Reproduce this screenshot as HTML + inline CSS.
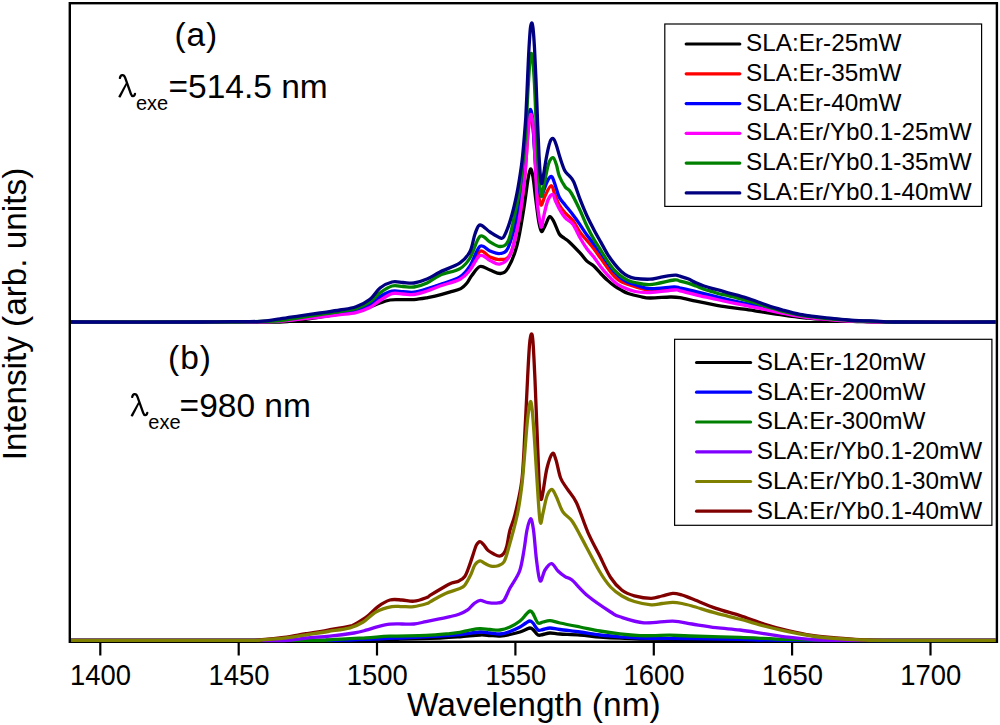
<!DOCTYPE html>
<html><head><meta charset="utf-8"><style>
html,body{margin:0;padding:0;background:#fff;}
svg{display:block;}
text{font-family:"Liberation Sans",sans-serif;fill:#000;}
.tk{font-size:29.5px;}
.lg{font-size:24.3px;}
.ttl{font-size:33.5px;}
.lab{font-size:33.5px;}
.sub{font-size:20px;}
.lam{font-family:"Liberation Serif",serif;font-size:33px;}
</style></head><body>
<svg width="1000" height="725" viewBox="0 0 1000 725">
<rect x="0" y="0" width="1000" height="725" fill="#fff"/>
<defs><clipPath id="pc"><rect x="71.1" y="4" width="924.6" height="640"/></clipPath></defs>
<line x1="69.8" y1="322" x2="996.9" y2="322" stroke="#000" stroke-width="2.2"/>
<rect x="69.8" y="3.2" width="927.1" height="638.6" fill="none" stroke="#000" stroke-width="2.4"/>
<g clip-path="url(#pc)">
<path d="M70.5,322.0 C98.8,322.0 205.1,322.0 240.0,322.0 C274.9,322.0 270.0,322.3 280.0,322.0 C290.0,321.7 293.3,320.8 300.0,320.0 C306.7,319.2 313.3,318.0 320.0,317.0 C326.7,316.0 333.3,315.2 340.0,314.0 C346.7,312.8 355.0,311.2 360.0,310.0 C365.0,308.8 366.7,308.2 370.0,307.0 C373.3,305.8 376.7,304.2 380.0,303.0 C383.3,301.8 386.7,300.6 390.0,300.0 C393.3,299.4 396.0,299.7 400.0,299.6 C404.0,299.5 409.5,299.9 414.0,299.6 C418.5,299.3 423.5,298.4 427.0,297.8 C430.5,297.2 431.2,297.1 435.0,296.2 C438.8,295.3 445.3,293.5 449.6,292.2 C453.9,290.9 457.9,290.1 460.8,288.6 C463.7,287.1 465.1,285.2 467.0,283.0 C468.9,280.8 469.8,277.9 472.0,275.2 C474.2,272.4 477.0,267.4 480.0,266.5 C483.0,265.6 486.6,268.8 490.0,270.0 C493.4,271.2 497.4,273.8 500.4,273.5 C503.4,273.2 505.2,272.7 508.0,268.0 C510.8,263.3 514.4,255.1 517.0,245.4 C519.6,235.7 521.8,221.0 523.6,210.0 C525.4,199.0 526.9,186.1 528.0,179.3 C529.1,172.5 529.7,169.4 530.5,169.0 C531.3,168.6 532.1,172.0 533.0,177.0 C533.9,182.0 534.7,191.3 535.7,199.0 C536.7,206.7 538.0,217.6 539.0,223.0 C540.0,228.4 540.5,231.0 541.5,231.5 C542.5,232.0 543.6,228.5 545.0,226.0 C546.4,223.5 548.2,217.3 549.7,216.6 C551.2,215.9 552.4,219.1 554.0,222.0 C555.6,224.9 557.6,231.3 559.3,234.0 C561.0,236.7 562.4,236.7 564.0,238.0 C565.6,239.3 566.3,239.2 569.0,241.7 C571.7,244.2 577.0,249.7 580.0,252.9 C583.0,256.1 584.6,258.9 586.9,261.1 C589.2,263.3 591.5,263.9 593.8,266.0 C596.1,268.1 598.4,271.1 600.7,273.5 C603.0,275.9 605.3,278.3 607.6,280.4 C609.9,282.5 612.1,284.3 614.4,285.9 C616.7,287.5 619.0,288.8 621.3,290.1 C623.6,291.4 625.1,292.4 628.2,293.5 C631.3,294.6 636.4,295.8 640.0,296.5 C643.6,297.2 645.0,297.9 650.0,298.0 C655.0,298.1 665.0,297.1 670.0,297.0 C675.0,296.9 675.7,296.9 680.0,297.6 C684.3,298.3 690.7,300.1 696.0,301.2 C701.3,302.3 706.7,303.4 712.0,304.4 C717.3,305.4 722.7,306.4 728.0,307.2 C733.3,308.0 738.7,308.5 744.0,309.2 C749.3,309.9 754.7,310.8 760.0,311.6 C765.3,312.4 770.7,313.4 776.0,314.2 C781.3,315.0 786.7,315.6 792.0,316.3 C797.3,317.0 802.7,317.6 808.0,318.2 C813.3,318.8 818.7,319.2 824.0,319.6 C829.3,320.0 834.0,320.3 840.0,320.6 C846.0,320.9 853.3,321.3 860.0,321.5 C866.7,321.7 857.3,321.9 880.0,322.0 C902.7,322.1 976.7,322.0 996.0,322.0" fill="none" stroke="#000000" stroke-width="3.3" stroke-linejoin="round" stroke-linecap="butt"/>
<path d="M70.5,322.0 C92.1,322.0 170.1,322.0 200.0,322.0 C229.9,322.0 236.7,322.2 250.0,322.0 C263.3,321.8 271.7,321.5 280.0,321.0 C288.3,320.5 293.3,319.6 300.0,318.8 C306.7,318.0 313.3,317.1 320.0,316.3 C326.7,315.5 334.0,314.6 340.0,313.8 C346.0,313.0 351.0,312.9 356.0,311.6 C361.0,310.3 366.0,308.2 370.0,306.0 C374.0,303.8 376.3,300.8 380.0,298.5 C383.7,296.2 388.2,293.0 392.0,292.0 C395.8,291.0 399.3,292.3 403.0,292.5 C406.7,292.7 410.0,293.5 414.0,293.0 C418.0,292.5 422.7,290.8 427.0,289.5 C431.3,288.2 434.5,286.8 440.0,285.0 C445.5,283.2 455.0,281.3 460.0,278.5 C465.0,275.7 466.7,272.6 470.0,268.0 C473.3,263.4 476.7,253.0 480.0,251.2 C483.3,249.4 486.7,255.6 490.0,257.0 C493.3,258.4 496.6,260.0 500.0,259.5 C503.4,259.0 507.2,260.8 510.4,254.0 C513.6,247.2 516.8,231.8 519.2,219.0 C521.6,206.2 523.2,191.3 524.7,177.0 C526.2,162.7 527.0,143.2 528.0,133.0 C529.0,122.8 529.6,116.0 530.5,116.0 C531.4,116.0 532.4,121.5 533.5,133.0 C534.6,144.5 535.9,173.8 536.9,185.0 C537.9,196.2 538.7,196.7 539.5,200.0 C540.3,203.3 540.6,205.7 541.5,205.0 C542.4,204.3 543.4,199.2 545.0,196.0 C546.6,192.8 549.5,185.9 551.2,185.7 C552.9,185.5 553.6,191.8 555.0,195.0 C556.4,198.2 557.6,202.0 559.3,205.0 C561.0,208.0 562.8,210.2 565.1,212.8 C567.4,215.4 570.4,217.3 572.9,220.5 C575.4,223.7 577.7,228.9 580.0,232.2 C582.3,235.5 584.6,237.8 586.9,240.5 C589.2,243.2 591.5,245.7 593.8,248.7 C596.1,251.7 598.4,255.2 600.7,258.4 C603.0,261.6 605.3,265.0 607.6,268.0 C609.9,271.0 612.1,274.0 614.4,276.3 C616.7,278.6 617.8,280.1 621.3,281.8 C624.8,283.5 630.3,285.2 635.1,286.6 C639.9,288.0 643.5,289.7 650.0,290.1 C656.5,290.5 669.0,289.1 674.0,289.0 C679.0,288.9 676.3,289.1 680.0,289.8 C683.7,290.6 690.7,292.3 696.0,293.5 C701.3,294.7 706.7,295.9 712.0,297.2 C717.3,298.4 722.7,299.8 728.0,301.0 C733.3,302.2 738.7,303.3 744.0,304.4 C749.3,305.5 754.7,306.5 760.0,307.6 C765.3,308.8 770.7,310.2 776.0,311.3 C781.3,312.4 786.7,313.5 792.0,314.4 C797.3,315.3 802.7,316.2 808.0,316.9 C813.3,317.6 818.7,318.2 824.0,318.8 C829.3,319.4 834.0,319.8 840.0,320.2 C846.0,320.6 853.3,320.9 860.0,321.2 C866.7,321.5 873.3,321.7 880.0,321.8 C886.7,321.9 880.7,322.0 900.0,322.0 C919.3,322.0 980.0,322.0 996.0,322.0" fill="none" stroke="#ff0000" stroke-width="3.3" stroke-linejoin="round" stroke-linecap="butt"/>
<path d="M70.5,322.0 C92.1,322.0 170.1,322.0 200.0,322.0 C229.9,322.0 236.7,322.2 250.0,322.0 C263.3,321.8 271.7,321.4 280.0,320.8 C288.3,320.2 293.3,319.2 300.0,318.3 C306.7,317.4 313.3,316.5 320.0,315.6 C326.7,314.7 334.0,313.9 340.0,313.0 C346.0,312.1 351.0,311.9 356.0,310.5 C361.0,309.1 366.0,306.8 370.0,304.5 C374.0,302.2 376.3,298.7 380.0,296.5 C383.7,294.3 388.2,292.0 392.0,291.2 C395.8,290.4 399.3,291.5 403.0,291.7 C406.7,291.9 410.0,292.7 414.0,292.2 C418.0,291.7 422.7,290.1 427.0,288.8 C431.3,287.5 434.5,286.5 440.0,284.5 C445.5,282.5 455.0,280.0 460.0,276.9 C465.0,273.8 466.7,271.1 470.0,266.0 C473.3,260.9 476.7,248.8 480.0,246.3 C483.3,243.8 486.7,249.8 490.0,251.0 C493.3,252.2 497.0,254.1 500.0,253.5 C503.0,252.9 505.4,253.7 508.2,247.6 C511.0,241.5 514.8,226.6 517.0,216.7 C519.2,206.8 519.9,200.1 521.4,188.0 C522.9,175.9 524.6,155.7 525.8,144.0 C527.0,132.3 527.7,123.8 528.5,118.0 C529.3,112.2 529.8,109.5 530.5,109.5 C531.2,109.5 531.8,111.2 532.5,118.0 C533.2,124.8 533.8,139.7 534.5,150.0 C535.2,160.3 536.2,173.0 537.0,180.0 C537.8,187.0 538.8,189.3 539.5,192.0 C540.2,194.7 540.6,196.8 541.5,196.0 C542.4,195.2 543.8,189.8 545.0,187.0 C546.2,184.2 547.3,180.7 548.5,179.0 C549.7,177.3 550.8,175.8 552.0,177.0 C553.2,178.2 554.3,182.6 555.5,186.0 C556.7,189.4 557.7,194.1 559.3,197.3 C560.9,200.5 562.8,202.1 565.1,205.0 C567.4,207.9 570.4,211.4 572.9,214.7 C575.4,218.0 577.7,221.2 580.0,224.6 C582.3,228.0 584.6,231.8 586.9,235.0 C589.2,238.2 591.5,240.9 593.8,243.9 C596.1,246.9 598.4,249.8 600.7,253.0 C603.0,256.2 605.3,259.8 607.6,263.0 C609.9,266.2 612.1,269.4 614.4,272.0 C616.7,274.6 619.0,276.8 621.3,278.5 C623.6,280.2 625.9,281.5 628.2,282.5 C630.5,283.5 631.5,283.6 635.1,284.6 C638.7,285.6 643.5,288.3 650.0,288.7 C656.5,289.1 669.0,287.1 674.0,287.0 C679.0,286.9 676.3,287.2 680.0,288.0 C683.7,288.8 690.7,290.3 696.0,291.6 C701.3,292.9 706.7,294.3 712.0,295.6 C717.3,296.9 722.7,298.3 728.0,299.6 C733.3,300.9 738.7,302.1 744.0,303.2 C749.3,304.3 754.7,305.2 760.0,306.4 C765.3,307.6 770.7,309.1 776.0,310.3 C781.3,311.5 786.7,312.6 792.0,313.6 C797.3,314.6 802.7,315.5 808.0,316.3 C813.3,317.1 818.7,317.7 824.0,318.3 C829.3,318.9 834.0,319.4 840.0,319.8 C846.0,320.2 853.3,320.7 860.0,321.0 C866.7,321.3 873.3,321.5 880.0,321.7 C886.7,321.9 880.7,321.9 900.0,322.0 C919.3,322.1 980.0,322.0 996.0,322.0" fill="none" stroke="#0000ff" stroke-width="3.3" stroke-linejoin="round" stroke-linecap="butt"/>
<path d="M70.5,322.0 C92.1,322.0 170.1,322.0 200.0,322.0 C229.9,322.0 236.7,322.1 250.0,322.0 C263.3,321.9 271.7,321.7 280.0,321.2 C288.3,320.7 293.3,319.9 300.0,319.2 C306.7,318.5 313.3,317.8 320.0,317.0 C326.7,316.2 334.0,315.4 340.0,314.7 C346.0,314.0 351.0,313.8 356.0,312.6 C361.0,311.4 366.0,309.5 370.0,307.5 C374.0,305.5 376.3,302.8 380.0,300.5 C383.7,298.2 388.2,294.7 392.0,293.6 C395.8,292.5 399.3,293.9 403.0,294.0 C406.7,294.1 410.0,295.0 414.0,294.5 C418.0,294.0 422.7,292.4 427.0,291.0 C431.3,289.6 434.5,287.9 440.0,286.0 C445.5,284.1 455.0,282.0 460.0,279.3 C465.0,276.6 466.7,274.0 470.0,270.0 C473.3,266.0 476.7,257.1 480.0,255.5 C483.3,253.9 486.7,259.1 490.0,260.5 C493.3,261.9 496.6,265.1 500.0,264.0 C503.4,262.9 507.2,261.7 510.4,254.2 C513.6,246.7 516.8,231.9 519.2,219.0 C521.6,206.1 523.2,191.3 524.7,177.0 C526.2,162.7 527.0,143.4 528.0,133.0 C529.0,122.6 529.7,115.3 530.6,114.5 C531.5,113.7 532.7,118.8 533.5,128.0 C534.3,137.2 534.8,157.2 535.5,170.0 C536.2,182.8 536.7,196.1 537.5,205.0 C538.3,213.9 539.5,219.7 540.2,223.3 C540.9,226.9 541.1,227.9 541.7,226.5 C542.3,225.1 543.0,219.4 544.0,215.0 C545.0,210.6 546.6,203.4 548.0,200.0 C549.4,196.6 551.4,194.2 552.6,194.4 C553.9,194.6 554.4,198.6 555.5,201.0 C556.6,203.4 557.7,206.1 559.3,208.9 C560.9,211.7 562.8,215.0 565.1,217.6 C567.4,220.2 570.4,221.0 572.9,224.3 C575.4,227.7 577.7,233.6 580.0,237.7 C582.3,241.8 584.6,245.5 586.9,248.7 C589.2,251.9 591.5,254.0 593.8,257.0 C596.1,260.0 598.4,263.7 600.7,266.7 C603.0,269.7 605.3,272.4 607.6,274.9 C609.9,277.4 612.1,279.9 614.4,281.8 C616.7,283.8 617.8,285.0 621.3,286.6 C624.8,288.2 630.3,290.5 635.1,291.5 C639.9,292.5 643.5,292.8 650.0,292.5 C656.5,292.2 669.0,290.3 674.0,290.0 C679.0,289.7 676.3,290.0 680.0,290.8 C683.7,291.6 690.7,293.5 696.0,294.8 C701.3,296.1 706.7,297.2 712.0,298.4 C717.3,299.6 722.7,300.9 728.0,302.0 C733.3,303.1 738.7,304.1 744.0,305.2 C749.3,306.3 754.7,307.3 760.0,308.4 C765.3,309.5 770.7,310.9 776.0,312.0 C781.3,313.1 786.7,314.2 792.0,315.1 C797.3,316.0 802.7,316.8 808.0,317.5 C813.3,318.2 818.7,318.7 824.0,319.2 C829.3,319.7 834.0,320.1 840.0,320.5 C846.0,320.9 853.3,321.2 860.0,321.4 C866.7,321.6 873.3,321.8 880.0,321.9 C886.7,322.0 880.7,322.0 900.0,322.0 C919.3,322.0 980.0,322.0 996.0,322.0" fill="none" stroke="#ff00ff" stroke-width="3.3" stroke-linejoin="round" stroke-linecap="butt"/>
<path d="M70.5,322.0 C92.1,322.0 170.1,322.0 200.0,322.0 C229.9,322.0 236.7,322.1 250.0,321.8 C263.3,321.6 271.7,321.2 280.0,320.5 C288.3,319.8 293.3,318.5 300.0,317.5 C306.7,316.5 313.3,315.5 320.0,314.5 C326.7,313.5 334.0,312.5 340.0,311.5 C346.0,310.5 351.0,310.3 356.0,308.7 C361.0,307.1 366.0,304.4 370.0,301.8 C374.0,299.2 376.3,295.4 380.0,292.8 C383.7,290.2 388.2,287.1 392.0,286.0 C395.8,284.9 399.3,286.3 403.0,286.5 C406.7,286.7 410.0,287.6 414.0,287.0 C418.0,286.4 422.7,285.0 427.0,283.0 C431.3,281.0 434.5,277.6 440.0,275.2 C445.5,272.8 455.0,271.5 460.0,268.6 C465.0,265.7 466.7,263.4 470.0,258.0 C473.3,252.6 476.7,239.0 480.0,236.3 C483.3,233.6 486.7,240.3 490.0,242.0 C493.3,243.7 497.0,246.7 500.0,246.5 C503.0,246.3 505.7,246.3 508.2,241.0 C510.7,235.7 513.0,222.6 514.8,214.5 C516.6,206.4 517.9,200.6 519.2,192.5 C520.5,184.4 521.4,175.9 522.5,166.0 C523.6,156.1 524.9,145.7 525.8,133.0 C526.7,120.3 527.3,101.8 528.0,90.0 C528.7,78.2 529.3,68.1 529.8,62.0 C530.3,55.9 530.7,53.8 531.2,53.5 C531.7,53.2 532.2,54.8 532.8,60.0 C533.3,65.2 533.9,73.3 534.5,85.0 C535.1,96.7 535.8,115.8 536.5,130.0 C537.2,144.2 537.7,159.0 538.5,170.0 C539.3,181.0 540.4,193.5 541.3,196.0 C542.2,198.5 542.8,190.3 544.0,185.0 C545.2,179.7 547.0,168.6 548.5,164.0 C550.0,159.4 551.7,157.4 553.0,157.6 C554.3,157.8 555.5,161.9 556.5,165.0 C557.5,168.1 557.9,172.4 559.3,176.0 C560.7,179.6 563.2,183.9 565.1,186.7 C567.0,189.4 568.4,188.6 570.9,192.5 C573.4,196.4 577.3,204.6 580.0,210.2 C582.7,215.8 584.6,221.2 586.9,226.0 C589.2,230.8 591.5,235.1 593.8,239.1 C596.1,243.1 598.4,246.4 600.7,250.1 C603.0,253.8 605.3,257.8 607.6,261.1 C609.9,264.4 612.1,267.6 614.4,270.1 C616.7,272.6 619.0,274.6 621.3,276.3 C623.6,278.0 625.9,279.4 628.2,280.4 C630.5,281.4 631.5,281.8 635.1,282.5 C638.7,283.2 643.5,285.0 650.0,284.6 C656.5,284.2 669.0,280.6 674.0,280.0 C679.0,279.4 677.7,280.7 680.0,281.2 C682.3,281.7 685.3,282.4 688.0,283.2 C690.7,284.0 693.3,285.0 696.0,286.0 C698.7,287.0 701.3,288.3 704.0,289.2 C706.7,290.1 709.3,290.8 712.0,291.6 C714.7,292.4 717.3,293.3 720.0,294.0 C722.7,294.7 725.3,295.0 728.0,295.6 C730.7,296.2 733.3,296.9 736.0,297.6 C738.7,298.3 741.3,299.3 744.0,300.0 C746.7,300.7 748.0,300.9 752.0,302.0 C756.0,303.1 762.7,305.2 768.0,306.8 C773.3,308.4 778.7,310.2 784.0,311.6 C789.3,313.0 794.7,314.1 800.0,315.0 C805.3,315.9 810.7,316.6 816.0,317.3 C821.3,318.0 826.7,318.5 832.0,319.0 C837.3,319.5 842.7,319.9 848.0,320.3 C853.3,320.7 858.7,320.9 864.0,321.1 C869.3,321.3 874.0,321.5 880.0,321.6 C886.0,321.8 880.7,321.9 900.0,322.0 C919.3,322.1 980.0,322.0 996.0,322.0" fill="none" stroke="#008000" stroke-width="3.3" stroke-linejoin="round" stroke-linecap="butt"/>
<path d="M70.5,322.0 C92.1,322.0 171.8,322.1 200.0,322.0 C228.2,321.9 230.0,321.7 240.0,321.6 C250.0,321.5 253.3,321.8 260.0,321.3 C266.7,320.8 273.3,319.7 280.0,318.8 C286.7,317.9 293.3,316.8 300.0,315.8 C306.7,314.8 313.3,314.0 320.0,313.0 C326.7,312.0 334.0,311.0 340.0,310.0 C346.0,309.0 351.0,308.6 356.0,306.8 C361.0,305.0 366.0,302.4 370.0,299.3 C374.0,296.2 376.3,290.9 380.0,288.0 C383.7,285.1 388.2,282.9 392.0,282.0 C395.8,281.1 399.3,282.3 403.0,282.5 C406.7,282.7 410.0,283.6 414.0,283.0 C418.0,282.4 422.7,280.8 427.0,279.0 C431.3,277.2 434.5,274.7 440.0,272.0 C445.5,269.3 455.0,266.2 460.0,262.8 C465.0,259.4 467.5,256.3 470.0,251.5 C472.5,246.7 473.3,238.4 475.0,234.0 C476.7,229.6 477.5,225.3 480.0,225.0 C482.5,224.7 486.7,229.9 490.0,232.0 C493.3,234.1 497.7,237.1 500.0,237.8 C502.3,238.6 502.3,239.5 504.0,236.5 C505.7,233.5 508.2,227.2 510.4,220.0 C512.6,212.8 515.2,202.0 517.0,193.0 C518.8,184.0 520.3,174.0 521.4,166.0 C522.5,158.0 522.9,153.2 523.6,145.0 C524.3,136.8 525.1,127.8 525.8,117.0 C526.4,106.2 527.0,91.5 527.5,80.0 C528.0,68.5 528.5,56.5 529.0,48.0 C529.5,39.5 529.9,33.2 530.3,29.0 C530.7,24.8 531.1,23.2 531.6,23.0 C532.1,22.8 532.5,23.8 533.0,28.0 C533.5,32.2 534.0,39.3 534.5,48.0 C535.0,56.7 535.5,68.0 536.0,80.0 C536.5,92.0 537.0,107.5 537.5,120.0 C538.0,132.5 538.5,145.8 539.0,155.0 C539.5,164.2 539.9,170.2 540.3,175.0 C540.7,179.8 541.0,183.0 541.5,183.5 C542.0,184.0 542.2,182.2 543.0,178.0 C543.8,173.8 545.2,163.9 546.3,158.0 C547.4,152.1 548.6,145.8 549.8,142.5 C550.9,139.2 552.1,138.1 553.2,138.5 C554.3,138.9 555.2,141.8 556.3,145.0 C557.4,148.2 558.6,153.3 560.0,157.6 C561.4,161.8 563.2,167.5 564.7,170.5 C566.2,173.5 567.5,173.6 569.0,175.5 C570.5,177.4 572.0,178.1 573.8,182.0 C575.6,185.9 577.8,193.5 580.0,199.1 C582.2,204.7 584.6,210.6 586.9,215.7 C589.2,220.8 591.5,225.0 593.8,229.4 C596.1,233.8 598.4,237.8 600.7,241.9 C603.0,246.1 605.3,250.6 607.6,254.3 C609.9,258.0 612.1,261.0 614.4,263.9 C616.7,266.8 619.0,269.4 621.3,271.5 C623.6,273.6 625.9,275.2 628.2,276.3 C630.5,277.4 631.5,277.9 635.1,278.4 C638.7,278.9 646.2,279.3 650.0,279.2 C653.8,279.1 655.0,278.4 658.0,277.8 C661.0,277.2 665.0,276.2 668.0,275.8 C671.0,275.4 674.0,275.1 676.0,275.2 C678.0,275.3 678.0,275.6 680.0,276.2 C682.0,276.8 685.3,277.7 688.0,278.8 C690.7,279.9 693.3,281.6 696.0,282.8 C698.7,284.0 701.3,285.1 704.0,286.0 C706.7,286.9 709.3,287.7 712.0,288.4 C714.7,289.1 717.3,289.7 720.0,290.4 C722.7,291.1 725.3,292.1 728.0,292.8 C730.7,293.5 733.3,294.1 736.0,294.8 C738.7,295.5 741.3,296.4 744.0,297.2 C746.7,298.0 748.0,298.4 752.0,299.8 C756.0,301.2 762.7,303.8 768.0,305.6 C773.3,307.4 778.7,308.9 784.0,310.4 C789.3,311.9 794.7,313.4 800.0,314.4 C805.3,315.4 810.7,315.9 816.0,316.6 C821.3,317.3 826.7,317.8 832.0,318.4 C837.3,319.0 842.7,319.6 848.0,320.0 C853.3,320.4 858.7,320.6 864.0,320.8 C869.3,321.0 874.0,321.1 880.0,321.3 C886.0,321.5 880.7,321.9 900.0,322.0 C919.3,322.1 980.0,322.0 996.0,322.0" fill="none" stroke="#000080" stroke-width="3.3" stroke-linejoin="round" stroke-linecap="butt"/>
<path d="M70.5,640.4 C108.8,640.4 253.4,640.4 300.0,640.4 C346.6,640.4 333.3,640.5 350.0,640.3 C366.7,640.1 385.0,639.6 400.0,639.2 C415.0,638.8 430.0,638.4 440.0,638.0 C450.0,637.6 453.3,637.3 460.0,636.8 C466.7,636.3 475.0,635.2 480.0,635.0 C485.0,634.8 486.7,635.3 490.0,635.5 C493.3,635.7 496.7,636.2 500.0,636.0 C503.3,635.8 506.7,635.2 510.0,634.5 C513.3,633.8 517.3,632.8 520.0,632.0 C522.7,631.2 524.3,630.2 526.0,629.5 C527.7,628.8 528.8,628.0 530.0,628.0 C531.2,628.0 531.7,628.3 533.0,629.5 C534.3,630.7 536.3,634.2 538.0,635.0 C539.7,635.8 541.0,634.8 543.0,634.5 C545.0,634.2 547.2,633.1 550.0,633.0 C552.8,632.9 555.0,633.7 560.0,634.0 C565.0,634.3 573.3,634.5 580.0,635.0 C586.7,635.5 593.3,636.5 600.0,637.0 C606.7,637.5 613.3,637.9 620.0,638.2 C626.7,638.5 626.7,638.8 640.0,639.0 C653.3,639.2 680.0,639.4 700.0,639.6 C720.0,639.8 710.7,640.3 760.0,640.4 C809.3,640.5 956.7,640.4 996.0,640.4" fill="none" stroke="#000000" stroke-width="3.3" stroke-linejoin="round" stroke-linecap="butt"/>
<path d="M70.5,640.4 C108.8,640.4 253.4,640.5 300.0,640.4 C346.6,640.3 333.3,640.4 350.0,640.0 C366.7,639.6 385.0,638.7 400.0,638.0 C415.0,637.3 430.0,636.6 440.0,636.0 C450.0,635.4 453.3,635.2 460.0,634.5 C466.7,633.8 475.0,632.2 480.0,632.0 C485.0,631.8 486.7,632.7 490.0,633.0 C493.3,633.3 496.7,634.2 500.0,634.0 C503.3,633.8 506.7,632.7 510.0,631.5 C513.3,630.3 517.3,628.4 520.0,627.0 C522.7,625.6 524.3,624.0 526.0,623.0 C527.7,622.0 528.8,621.0 530.0,621.0 C531.2,621.0 531.7,621.5 533.0,623.0 C534.3,624.5 536.3,628.9 538.0,630.0 C539.7,631.1 541.0,629.8 543.0,629.5 C545.0,629.2 547.2,628.0 550.0,628.0 C552.8,628.0 555.0,628.8 560.0,629.5 C565.0,630.2 573.3,631.1 580.0,632.0 C586.7,632.9 593.3,634.2 600.0,635.0 C606.7,635.8 613.3,636.3 620.0,636.8 C626.7,637.3 628.3,637.7 640.0,638.0 C651.7,638.3 673.3,638.3 690.0,638.5 C706.7,638.7 721.7,639.1 740.0,639.4 C758.3,639.7 757.3,640.2 800.0,640.4 C842.7,640.6 963.3,640.4 996.0,640.4" fill="none" stroke="#0000ff" stroke-width="3.3" stroke-linejoin="round" stroke-linecap="butt"/>
<path d="M70.5,640.4 C108.8,640.4 256.8,640.5 300.0,640.4 C343.2,640.3 319.0,640.2 330.0,639.8 C341.0,639.4 356.0,638.4 366.0,637.8 C376.0,637.2 380.0,636.6 390.0,636.2 C400.0,635.8 416.0,635.8 426.0,635.4 C436.0,635.0 444.3,634.1 450.0,633.6 C455.7,633.1 456.7,633.0 460.0,632.4 C463.3,631.8 466.7,630.6 470.0,630.0 C473.3,629.4 476.7,628.7 480.0,628.6 C483.3,628.5 486.7,629.3 490.0,629.5 C493.3,629.7 496.7,630.4 500.0,630.0 C503.3,629.6 506.7,628.5 510.0,627.0 C513.3,625.5 517.3,623.1 520.0,621.0 C522.7,618.9 524.3,616.2 526.0,614.5 C527.7,612.8 528.8,611.2 530.0,611.0 C531.2,610.8 531.7,611.5 533.0,613.5 C534.3,615.5 536.3,621.6 538.0,623.0 C539.7,624.4 541.0,622.4 543.0,622.0 C545.0,621.6 547.2,620.4 550.0,620.6 C552.8,620.8 555.0,621.9 560.0,623.0 C565.0,624.1 573.3,625.7 580.0,627.0 C586.7,628.3 593.3,629.9 600.0,631.0 C606.7,632.1 613.3,633.0 620.0,633.8 C626.7,634.6 634.2,635.3 640.0,635.6 C645.8,635.9 650.0,635.7 655.0,635.6 C660.0,635.5 664.2,635.1 670.0,635.2 C675.8,635.3 678.3,635.6 690.0,636.0 C701.7,636.4 723.7,636.8 740.0,637.4 C756.3,638.0 771.3,638.9 788.0,639.4 C804.7,639.9 805.3,640.2 840.0,640.4 C874.7,640.6 970.0,640.4 996.0,640.4" fill="none" stroke="#008000" stroke-width="3.3" stroke-linejoin="round" stroke-linecap="butt"/>
<path d="M70.5,640.4 C98.8,640.4 204.4,640.4 240.0,640.4 C275.6,640.4 273.0,640.9 284.0,640.5 C295.0,640.1 298.3,638.7 306.0,638.0 C313.7,637.3 322.0,637.0 330.0,636.2 C338.0,635.4 348.0,634.0 354.0,633.0 C360.0,632.0 362.0,631.3 366.0,630.2 C370.0,629.1 374.0,627.6 378.0,626.6 C382.0,625.6 386.0,624.6 390.0,624.2 C394.0,623.8 398.0,624.0 402.0,624.0 C406.0,624.0 410.0,624.4 414.0,624.0 C418.0,623.6 422.0,622.4 426.0,621.6 C430.0,620.8 434.0,620.0 438.0,619.2 C442.0,618.4 446.5,617.4 450.0,616.6 C453.5,615.8 456.1,615.3 459.0,614.2 C461.9,613.1 465.3,611.6 467.7,609.9 C470.1,608.2 471.4,605.7 473.5,604.1 C475.6,602.5 477.6,600.6 480.0,600.4 C482.4,600.1 485.0,602.2 488.0,602.6 C491.0,603.0 495.5,603.3 498.1,602.9 C500.8,602.5 501.9,602.9 503.9,600.4 C505.9,597.9 507.4,593.0 510.0,588.1 C512.6,583.2 517.3,577.4 519.6,571.0 C521.9,564.6 522.8,556.8 524.0,550.0 C525.2,543.2 525.9,535.2 527.0,530.0 C528.1,524.8 529.5,518.7 530.6,518.7 C531.7,518.7 532.5,523.1 533.5,530.0 C534.5,536.9 535.4,551.5 536.5,560.0 C537.6,568.5 538.7,579.3 540.1,581.0 C541.5,582.7 543.1,572.9 545.0,570.0 C546.9,567.1 549.3,563.5 551.5,563.7 C553.7,563.9 555.7,568.8 558.0,571.0 C560.3,573.2 562.8,575.2 565.1,576.7 C567.4,578.2 568.2,576.9 572.0,580.1 C575.8,583.3 581.5,590.7 587.9,596.0 C594.3,601.3 605.2,608.5 610.6,612.0 C616.0,615.5 614.4,615.0 620.0,616.8 C625.6,618.6 635.2,622.1 644.0,622.8 C652.8,623.5 664.8,620.9 672.8,621.1 C680.8,621.3 684.8,622.9 692.0,624.0 C699.2,625.1 708.0,626.6 716.0,627.6 C724.0,628.6 732.0,629.0 740.0,630.0 C748.0,631.0 756.0,632.4 764.0,633.6 C772.0,634.8 780.0,636.2 788.0,637.2 C796.0,638.2 803.3,639.1 812.0,639.6 C820.7,640.1 809.3,640.3 840.0,640.4 C870.7,640.5 970.0,640.4 996.0,640.4" fill="none" stroke="#8000ff" stroke-width="3.3" stroke-linejoin="round" stroke-linecap="butt"/>
<path d="M70.5,640.4 C98.8,640.4 208.1,640.5 240.0,640.4 C271.9,640.3 254.7,640.1 262.0,639.6 C269.3,639.1 276.7,638.4 284.0,637.4 C291.3,636.4 298.7,634.9 306.0,633.7 C313.3,632.5 320.7,631.3 328.0,630.0 C335.3,628.7 345.7,626.9 350.0,626.0 C354.3,625.1 351.3,626.0 354.0,624.6 C356.7,623.2 362.0,620.4 366.0,617.4 C370.0,614.4 374.0,609.5 378.0,606.6 C382.0,603.7 386.0,601.1 390.0,600.0 C394.0,598.9 398.0,599.8 402.0,600.0 C406.0,600.2 409.8,601.6 414.0,601.2 C418.2,600.8 424.3,598.4 427.0,597.4 C429.7,596.4 427.1,597.2 430.0,595.4 C432.9,593.6 440.9,588.8 444.5,586.7 C448.1,584.6 449.3,584.0 451.7,583.0 C454.1,582.0 456.8,582.0 459.0,580.9 C461.2,579.8 463.1,578.9 464.8,576.5 C466.5,574.1 467.7,570.3 469.1,566.4 C470.6,562.5 472.3,556.9 473.5,553.3 C474.7,549.7 475.3,546.9 476.4,545.0 C477.5,543.1 478.8,541.8 480.0,541.7 C481.2,541.6 482.3,543.2 483.6,544.6 C484.9,546.0 486.3,548.8 488.0,550.4 C489.7,552.0 491.9,553.0 493.8,554.0 C495.7,555.0 497.9,556.3 499.6,556.2 C501.3,556.1 502.7,555.0 503.9,553.3 C505.1,551.6 505.8,550.0 506.8,546.1 C507.8,542.2 508.6,535.3 510.0,530.0 C511.4,524.7 513.1,522.4 515.1,514.1 C517.1,505.8 520.2,494.0 521.9,480.0 C523.5,466.0 524.1,446.7 525.0,430.0 C525.9,413.3 526.8,394.2 527.5,380.0 C528.2,365.8 528.9,352.7 529.5,345.0 C530.1,337.3 530.7,334.5 531.3,334.0 C531.9,333.5 532.4,334.3 533.0,342.0 C533.6,349.7 534.3,365.3 535.0,380.0 C535.7,394.7 536.3,413.3 537.0,430.0 C537.7,446.7 538.4,468.5 539.0,480.0 C539.6,491.5 540.1,497.0 540.8,499.0 C541.5,501.0 542.0,497.2 543.0,492.0 C544.0,486.8 545.4,474.4 547.0,468.0 C548.6,461.6 551.0,454.8 552.5,453.5 C554.0,452.2 554.6,455.9 556.0,460.0 C557.4,464.1 558.7,473.1 560.6,478.0 C562.5,482.9 564.8,485.0 567.4,489.1 C570.0,493.2 573.1,495.6 576.5,502.8 C579.9,510.0 584.1,523.6 587.9,532.3 C591.7,541.0 595.5,547.6 599.3,555.1 C603.1,562.6 606.8,571.6 610.6,577.5 C614.4,583.4 618.0,587.2 622.0,590.3 C626.0,593.3 629.5,594.5 634.4,595.8 C639.3,597.1 646.6,598.3 651.2,598.3 C655.8,598.3 658.4,596.8 662.0,596.0 C665.6,595.2 669.5,593.5 672.8,593.3 C676.1,593.1 678.8,594.1 682.0,595.0 C685.2,595.9 686.3,596.6 692.0,598.8 C697.7,601.0 708.0,605.6 716.0,608.4 C724.0,611.2 732.0,613.0 740.0,615.6 C748.0,618.2 756.0,621.5 764.0,624.0 C772.0,626.5 780.0,628.8 788.0,630.7 C796.0,632.6 804.0,634.3 812.0,635.5 C820.0,636.7 828.0,637.2 836.0,637.9 C844.0,638.6 851.0,639.2 860.0,639.6 C869.0,640.0 867.3,640.3 890.0,640.4 C912.7,640.5 978.3,640.4 996.0,640.4" fill="none" stroke="#800000" stroke-width="3.3" stroke-linejoin="round" stroke-linecap="butt"/>
<path d="M70.5,640.4 C98.8,640.4 208.1,640.5 240.0,640.4 C271.9,640.3 254.7,640.2 262.0,639.8 C269.3,639.4 276.7,639.0 284.0,638.2 C291.3,637.4 298.7,635.9 306.0,634.8 C313.3,633.7 320.7,632.7 328.0,631.5 C335.3,630.3 344.1,629.4 350.0,627.8 C355.9,626.2 358.8,624.7 363.2,622.0 C367.6,619.3 371.6,614.3 376.4,611.7 C381.2,609.1 387.5,607.5 391.8,606.6 C396.1,605.8 398.3,606.6 402.0,606.6 C405.7,606.6 409.6,607.1 413.8,606.6 C418.0,606.1 424.3,604.3 427.0,603.5 C429.7,602.7 427.1,603.5 430.0,601.9 C432.9,600.3 439.7,596.1 444.5,593.9 C449.3,591.7 455.6,590.2 459.0,588.8 C462.4,587.3 462.9,587.5 464.8,585.2 C466.7,582.9 468.9,578.5 470.6,575.1 C472.3,571.7 473.3,567.3 474.9,564.9 C476.5,562.5 478.3,561.1 480.0,560.9 C481.7,560.7 483.2,562.6 485.0,563.5 C486.8,564.4 488.7,565.7 490.9,566.1 C493.1,566.5 495.9,566.4 498.1,565.7 C500.3,565.0 502.2,564.8 503.9,562.0 C505.6,559.2 506.1,557.0 508.3,549.0 C510.6,541.0 515.1,524.8 517.4,514.1 C519.7,503.4 520.6,495.7 521.9,485.0 C523.2,474.3 524.1,460.8 525.0,450.0 C525.9,439.2 526.6,428.0 527.5,420.0 C528.4,412.0 529.4,403.7 530.2,402.0 C531.0,400.3 531.5,403.7 532.2,410.0 C532.9,416.3 533.7,428.3 534.5,440.0 C535.3,451.7 536.1,466.4 537.0,480.0 C537.9,493.6 539.1,516.0 540.1,521.5 C541.1,527.0 541.9,517.2 543.0,513.0 C544.1,508.8 545.5,499.9 547.0,496.0 C548.5,492.1 550.3,489.5 551.8,489.5 C553.3,489.5 554.1,492.3 556.0,496.0 C557.9,499.7 560.2,507.7 562.9,511.9 C565.6,516.1 569.0,516.8 572.0,521.0 C575.0,525.2 576.5,528.6 581.0,536.9 C585.5,545.2 594.4,562.6 599.3,571.0 C604.2,579.4 606.8,582.8 610.6,587.0 C614.4,591.2 618.0,593.6 622.0,596.0 C626.0,598.4 629.5,600.0 634.4,601.5 C639.3,603.0 646.6,604.5 651.2,604.8 C655.8,605.1 658.4,603.9 662.0,603.5 C665.6,603.1 669.5,602.4 672.8,602.4 C676.1,602.4 678.8,602.9 682.0,603.5 C685.2,604.1 686.3,604.4 692.0,606.0 C697.7,607.6 708.0,611.0 716.0,613.2 C724.0,615.4 732.0,617.1 740.0,619.2 C748.0,621.3 756.0,623.9 764.0,626.0 C772.0,628.1 780.0,630.0 788.0,631.7 C796.0,633.4 804.0,634.9 812.0,636.0 C820.0,637.1 828.0,637.9 836.0,638.5 C844.0,639.1 851.0,639.5 860.0,639.8 C869.0,640.1 867.3,640.3 890.0,640.4 C912.7,640.5 978.3,640.4 996.0,640.4" fill="none" stroke="#808000" stroke-width="3.3" stroke-linejoin="round" stroke-linecap="butt"/>

</g>
<line x1="100.3" y1="642" x2="100.3" y2="655.5" stroke="#000" stroke-width="2.2"/>
<text transform="translate(100.6,684.5) scale(0.93,1)" text-anchor="middle" class="tk">1400</text>
<line x1="238.7" y1="642" x2="238.7" y2="655.5" stroke="#000" stroke-width="2.2"/>
<text transform="translate(239.0,684.5) scale(0.93,1)" text-anchor="middle" class="tk">1450</text>
<line x1="377.0" y1="642" x2="377.0" y2="655.5" stroke="#000" stroke-width="2.2"/>
<text transform="translate(377.3,684.5) scale(0.93,1)" text-anchor="middle" class="tk">1500</text>
<line x1="515.4" y1="642" x2="515.4" y2="655.5" stroke="#000" stroke-width="2.2"/>
<text transform="translate(515.7,684.5) scale(0.93,1)" text-anchor="middle" class="tk">1550</text>
<line x1="653.8" y1="642" x2="653.8" y2="655.5" stroke="#000" stroke-width="2.2"/>
<text transform="translate(654.1,684.5) scale(0.93,1)" text-anchor="middle" class="tk">1600</text>
<line x1="792.1" y1="642" x2="792.1" y2="655.5" stroke="#000" stroke-width="2.2"/>
<text transform="translate(792.4,684.5) scale(0.93,1)" text-anchor="middle" class="tk">1650</text>
<line x1="930.5" y1="642" x2="930.5" y2="655.5" stroke="#000" stroke-width="2.2"/>
<text transform="translate(930.8,684.5) scale(0.93,1)" text-anchor="middle" class="tk">1700</text>

<rect x="664.8" y="24.0" width="316.8" height="182.4" fill="#fff" stroke="#000" stroke-width="1.2"/>
<line x1="686.2" y1="44.0" x2="739.8" y2="44.0" stroke="#000" stroke-width="3.2" stroke-linecap="round"/>
<text x="746.1" y="50.9" class="lg">SLA:Er-25mW</text>
<line x1="686.2" y1="73.8" x2="739.8" y2="73.8" stroke="#ff0000" stroke-width="3.2" stroke-linecap="round"/>
<text x="746.1" y="80.7" class="lg">SLA:Er-35mW</text>
<line x1="686.2" y1="103.6" x2="739.8" y2="103.6" stroke="#0000ff" stroke-width="3.2" stroke-linecap="round"/>
<text x="746.1" y="110.5" class="lg">SLA:Er-40mW</text>
<line x1="686.2" y1="133.3" x2="739.8" y2="133.3" stroke="#ff00ff" stroke-width="3.2" stroke-linecap="round"/>
<text x="746.1" y="140.2" class="lg">SLA:Er/Yb0.1-25mW</text>
<line x1="686.2" y1="163.1" x2="739.8" y2="163.1" stroke="#008000" stroke-width="3.2" stroke-linecap="round"/>
<text x="746.1" y="170.0" class="lg">SLA:Er/Yb0.1-35mW</text>
<line x1="686.2" y1="192.9" x2="739.8" y2="192.9" stroke="#000080" stroke-width="3.2" stroke-linecap="round"/>
<text x="746.1" y="199.8" class="lg">SLA:Er/Yb0.1-40mW</text>
<rect x="674.6" y="339.3" width="317.3" height="186.0" fill="#fff" stroke="#000" stroke-width="1.2"/>
<line x1="696.6" y1="362.5" x2="750.6" y2="362.5" stroke="#000" stroke-width="3.2" stroke-linecap="round"/>
<text x="756.7" y="369.8" class="lg">SLA:Er-120mW</text>
<line x1="696.6" y1="392.2" x2="750.6" y2="392.2" stroke="#0000ff" stroke-width="3.2" stroke-linecap="round"/>
<text x="756.7" y="399.6" class="lg">SLA:Er-200mW</text>
<line x1="696.6" y1="422.0" x2="750.6" y2="422.0" stroke="#008000" stroke-width="3.2" stroke-linecap="round"/>
<text x="756.7" y="429.3" class="lg">SLA:Er-300mW</text>
<line x1="696.6" y1="451.8" x2="750.6" y2="451.8" stroke="#8000ff" stroke-width="3.2" stroke-linecap="round"/>
<text x="756.7" y="459.1" class="lg">SLA:Er/Yb0.1-20mW</text>
<line x1="696.6" y1="481.5" x2="750.6" y2="481.5" stroke="#808000" stroke-width="3.2" stroke-linecap="round"/>
<text x="756.7" y="488.8" class="lg">SLA:Er/Yb0.1-30mW</text>
<line x1="696.6" y1="511.2" x2="750.6" y2="511.2" stroke="#800000" stroke-width="3.2" stroke-linecap="round"/>
<text x="756.7" y="518.5" class="lg">SLA:Er/Yb0.1-40mW</text>

<text x="174.5" y="45.7" class="lab" letter-spacing="0.8">(a)</text>
<path d="M119.9,77.9 C120.6,74.6 123.8,73.8 125.2,77.8 L130.9,93.9 C131.9,97.0 134.2,96.9 135.0,93.8" fill="none" stroke="#000" stroke-width="2.3" stroke-linecap="round"/><path d="M127.3,83.9 L125.8,83.1 L118.3,96.5 Q119.2,97.9 120.6,97.4 Z" fill="#000" stroke="none"/>
<text x="136" y="109.8" class="sub">exe</text>
<text x="168.5" y="97.8" class="lab">=514.5 nm</text>
<text x="168" y="368.7" class="lab" letter-spacing="1">(b)</text>
<path d="M132.2,396.9 C132.9,393.6 136.1,392.8 137.5,396.8 L143.2,412.9 C144.2,416.0 146.5,415.9 147.3,412.8" fill="none" stroke="#000" stroke-width="2.3" stroke-linecap="round"/><path d="M139.7,402.9 L138.2,402.1 L130.6,415.5 Q131.5,416.9 132.9,416.4 Z" fill="#000" stroke="none"/>
<text x="148.3" y="429.1" class="sub">exe</text>
<text x="179.6" y="416.6" class="lab">=980 nm</text>
<text x="533.8" y="716" text-anchor="middle" class="ttl">Wavelength (nm)</text>
<text transform="translate(26,313.95) rotate(-90)" text-anchor="middle" class="ttl" style="font-size:33.3px">Intensity (arb. units)</text>
</svg>
</body></html>
